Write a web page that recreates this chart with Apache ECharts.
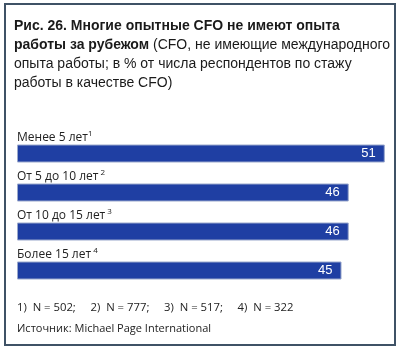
<!DOCTYPE html>
<html>
<head>
<meta charset="utf-8">
<script src="https://cdn.jsdelivr.net/npm/echarts@6/dist/echarts.min.js"></script>
<style>
  html, body { margin: 0; padding: 0; background: #fff; }
  #chart { width: 400px; height: 349px; }
</style>
</head>
<body>
<div id="chart"></div>
<script>
// Experience groups, their footnote marks and the share of CFOs without work abroad
const categories = ['Менее 5 лет', 'От 5 до 10 лет', 'От 10 до 15 лет', 'Более 15 лет'];
const footnoteMarks = ['1', ' 2', ' 3', ' 4'];
const values = [51, 46, 46, 45];
const sampleSizes = [502, 777, 517, 322];
const sourceText = 'Источник: Michael Page International';

const chart = echarts.init(document.getElementById('chart'), null, { renderer: 'canvas' });

const footnoteLine = sampleSizes.map((n, i) => (i + 1) + ')  N = ' + n).join(';     ');

const option = {
  backgroundColor: '#ffffff',
  animation: false,
  title: [
    {
      left: 14,
      top: 17,
      padding: 0,
      text: '{b|Рис. 26. Многие опытные CFO не имеют опыта}\n{b|работы за рубежом}{g|(CFO, не имеющие международного}\n{n|опыта работы; в % от числа респондентов по стажу}\n{n|работы в качестве CFO)}',
      textStyle: {
        rich: {
          b: { fontFamily: 'Liberation Sans', fontWeight: 'bold', fontSize: 14, color: '#1a1a1a', lineHeight: 19 },
          g: { fontFamily: 'Liberation Sans', fontWeight: 'normal', fontSize: 14, color: '#1a1a1a', lineHeight: 19, padding: [0, 0, 0, 4] },
          n: { fontFamily: 'Liberation Sans', fontWeight: 'normal', fontSize: 14, color: '#1a1a1a', lineHeight: 19 }
        }
      }
    },
    {
      left: 17,
      top: 302,
      padding: 0,
      text: footnoteLine,
      textStyle: { fontFamily: 'Open Sans', fontWeight: 'normal', fontSize: 11.3, color: '#222' }
    },
    {
      left: 17,
      top: 323,
      padding: 0,
      text: sourceText,
      textStyle: { fontFamily: 'Open Sans', fontWeight: 'normal', fontSize: 11, color: '#222' }
    }
  ],
  graphic: [
    {
      type: 'rect',
      shape: { x: 5, y: 4, width: 390, height: 341 },
      style: { fill: 'none', stroke: '#3f5266', lineWidth: 2 },
      silent: true
    }
  ],
  grid: { left: 17, width: 375, top: 134, height: 156, containLabel: false },
  xAxis: {
    type: 'value',
    min: 0,
    max: 52,
    show: false
  },
  yAxis: {
    type: 'category',
    data: categories,
    inverse: true,
    show: false
  },
  series: [
    {
      type: 'bar',
      data: values,
      barWidth: 18,
      itemStyle: { color: '#1f3fa3', borderColor: '#9aa8cc', borderWidth: 1 },
      label: {
        show: true,
        position: 'insideRight',
        distance: 9,
        color: '#ffffff',
        fontFamily: 'Liberation Sans',
        fontSize: 13,
        formatter: p => String(p.value)
      },
      z: 2
    },
    {
      // category captions placed just above each bar
      type: 'bar',
      data: values,
      barWidth: 18,
      barGap: '-100%',
      itemStyle: { color: 'rgba(0,0,0,0)' },
      label: {
        show: true,
        position: [0, -7],
        align: 'left',
        verticalAlign: 'middle',
        formatter: p => '{t|' + categories[p.dataIndex] + '}{s|' + footnoteMarks[p.dataIndex] + '}',
        rich: {
          t: { fontFamily: 'Open Sans', fontSize: 12, color: '#222', lineHeight: 16 },
          s: { fontFamily: 'Open Sans', fontSize: 8, color: '#222', verticalAlign: 'top', padding: [0, 0, 8, 0], lineHeight: 16 }
        }
      },
      z: 3,
      silent: true
    }
  ]
};

chart.setOption(option);
</script>
</body>
</html>
